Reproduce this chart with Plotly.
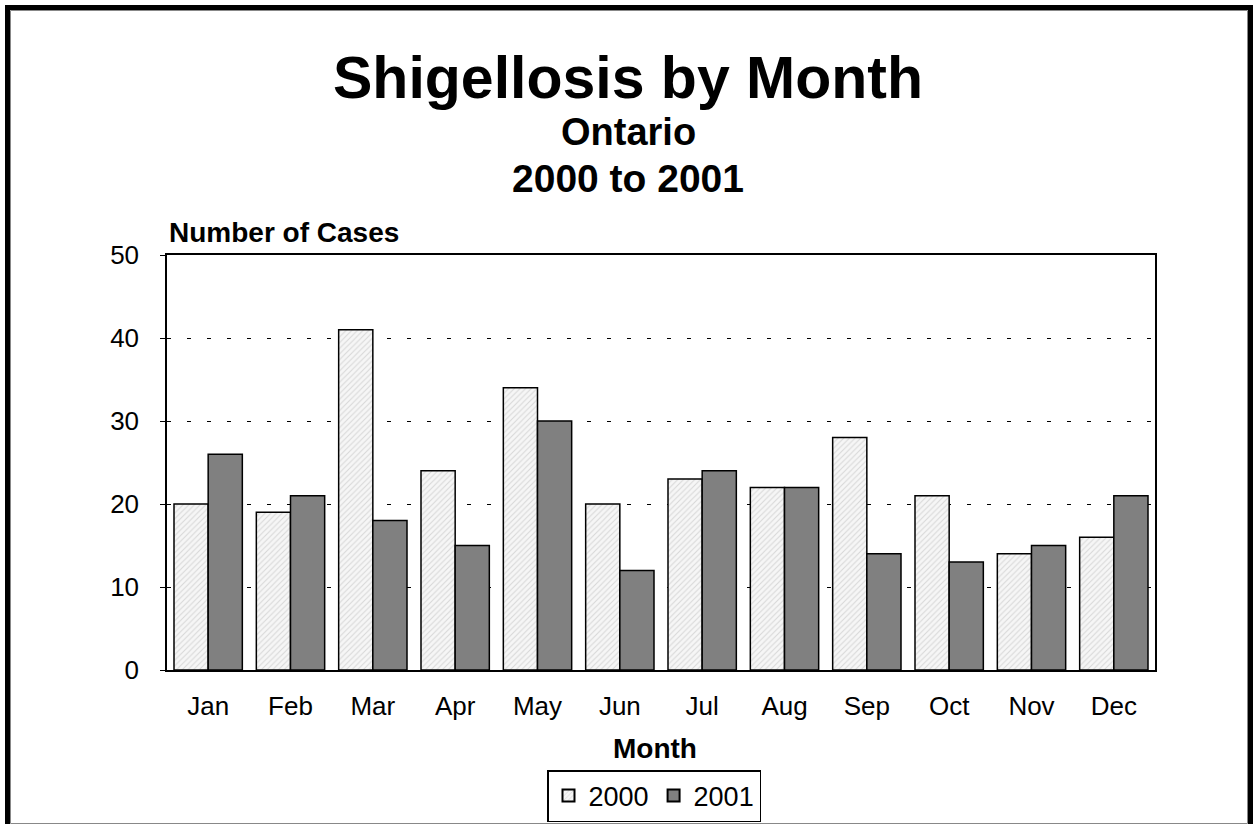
import plotly.graph_objects as go

months = ["Jan", "Feb", "Mar", "Apr", "May", "Jun", "Jul", "Aug", "Sep", "Oct", "Nov", "Dec"]
cases_2000 = [20, 19, 41, 24, 34, 20, 23, 22, 28, 21, 14, 16]
cases_2001 = [26, 21, 18, 15, 30, 12, 24, 22, 14, 13, 15, 21]

W, H = 1256, 824
L, R, T, B = 167, 1155, 255, 670
FONT = "Liberation Sans, Arial, sans-serif"


def px(x):
    return (x - L) / (R - L)


def py(y):
    return (B - y) / (B - T)


fig = go.Figure()
fig.add_trace(go.Bar(
    x=months, y=cases_2000, name="2000",
    marker=dict(color="white", line=dict(color="black", width=1.5),
                pattern=dict(shape="/", fgcolor="#b8b8b8", bgcolor="#f6f6f6", size=4, solidity=0.25)),
))
fig.add_trace(go.Bar(
    x=months, y=cases_2001, name="2001",
    marker=dict(color="#808080", line=dict(color="black", width=1.5)),
))

annotations = [
    dict(text="<b>Shigellosis by Month</b>", x=px(628), y=py(78), font=dict(size=59)),
    dict(text="<b>Ontario</b>", x=px(628), y=py(132), font=dict(size=38)),
    dict(text="<b>2000 to 2001</b>", x=px(628), y=py(179), font=dict(size=39)),
    dict(text="<b>Number of Cases</b>", x=px(167), y=py(233), xanchor="left", font=dict(size=28)),
    dict(text="<b>Month</b>", x=px(655), y=py(748), font=dict(size=28)),
]
for a in annotations:
    a.update(xref="paper", yref="paper", showarrow=False)
    a.setdefault("xanchor", "center")
    a["yanchor"] = "middle"
    a["font"].update(family=FONT, color="black")

shapes = [
    dict(type="rect", xref="paper", yref="paper", x0=px(7.5), y0=py(7.5), x1=px(1250.5), y1=py(826.5),
         line=dict(color="black", width=5), layer="below"),
    dict(type="rect", xref="paper", yref="paper", x0=px(10.5), y0=py(10.5), x1=px(1247.5), y1=py(823.5),
         line=dict(color="#888888", width=1), layer="below"),
]

fig.update_layout(
    width=W, height=H,
    margin=dict(l=L, r=W - R, t=T, b=H - B, autoexpand=False),
    paper_bgcolor="white", plot_bgcolor="white",
    barmode="group", bargap=0.17, bargroupgap=0,
    font=dict(family=FONT, color="black", size=26),
    annotations=annotations,
    shapes=shapes,
    showlegend=True,
    legend=dict(orientation="h", x=px(654), y=py(796), xanchor="center", yanchor="middle",
                bordercolor="black", borderwidth=1.5, bgcolor="white",
                font=dict(size=27, family=FONT, color="black"),
                itemsizing="constant", tracegroupgap=0, itemwidth=30),
)
fig.update_yaxes(range=[0, 50], dtick=10, showgrid=True, gridcolor="black", gridwidth=1,
                 griddash="4px,16px", showline=True, linecolor="black", linewidth=1.5, mirror=True,
                 ticks="outside", ticklen=5, tickcolor="black", ticklabelstandoff=16,
                 tickfont=dict(size=26), zeroline=False)
fig.update_xaxes(showline=True, linecolor="black", linewidth=1.5, mirror=True, ticks="",
                 ticklabelstandoff=12, tickfont=dict(size=26))

fig.write_html("out.html", config={"displayModeBar": False},
               post_script="document.body.style.margin='0';document.body.style.padding='0';")
